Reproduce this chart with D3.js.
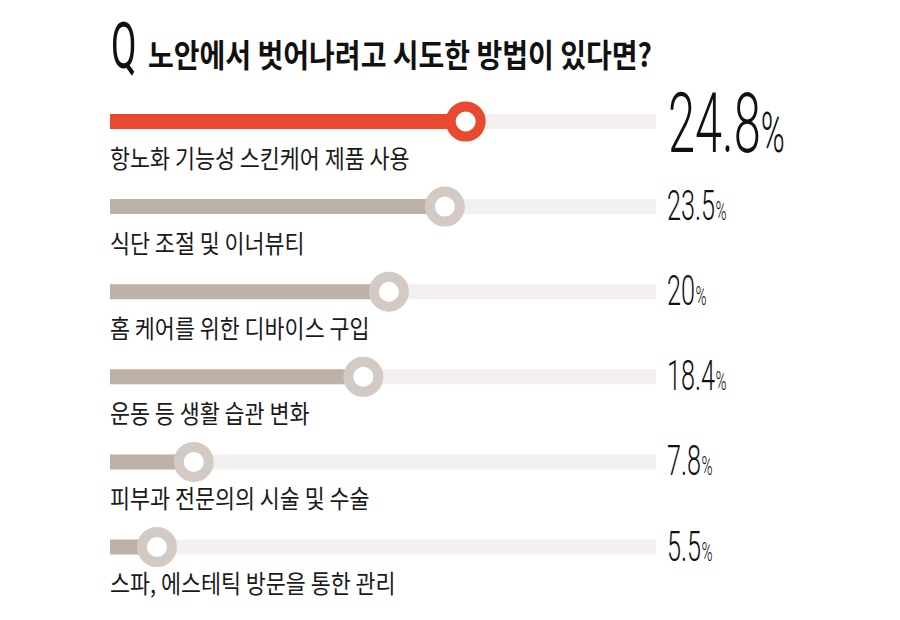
<!DOCTYPE html>
<html>
<head>
<meta charset="utf-8">
<script src="https://cdn.jsdelivr.net/npm/d3@7"></script>
<style>
  html, body { margin: 0; padding: 0; background: #ffffff; }
  svg { display: block; }
</style>
</head>
<body>
<svg id="chart" width="900" height="620"></svg>
<script>
// ---- data ----
const title = "노안에서 벗어나려고 시도한 방법이 있다면?";
const categories = [
  "항노화 기능성 스킨케어 제품 사용",
  "식단 조절 및 이너뷰티",
  "홈 케어를 위한 디바이스 구입",
  "운동 등 생활 습관 변화",
  "피부과 전문의의 시술 및 수술",
  "스파, 에스테틱 방문을 통한 관리"
];
const values = [24.8, 23.5, 20, 18.4, 7.8, 5.5];
const valueLabels = ["24.8", "23.5", "20", "18.4", "7.8", "5.5"];

// ---- layout ----
const svg = d3.select("#chart");
const trackStart = 110, trackEnd = 656;
const x = d3.scaleLinear().domain([0, 36.7]).range([69, trackEnd]);
const y = d3.scalePoint().domain(categories).range([121.5, 547]);

const RED = "#e84a31", GRAY_BAR = "#bdb1a8", GRAY_RING = "#d3cac4", TRACK = "#f3f0ef";
const numFont = "Roboto, 'Liberation Sans', sans-serif";
const krFont = "'Noto Sans CJK KR', 'Noto Sans', sans-serif";

// Q mark
svg.append("g")
  .attr("transform", "translate(111,68) scale(0.58,1)")
  .append("text")
  .attr("font-family", numFont).attr("font-weight", 400)
  .attr("font-size", 64).attr("fill", "#111")
  .text("Q");

// Title
svg.append("text")
  .attr("x", 148).attr("y", 67)
  .attr("font-family", krFont).attr("font-weight", 700)
  .attr("font-size", 32).attr("fill", "#111")
  .attr("textLength", 504).attr("lengthAdjust", "spacingAndGlyphs")
  .text(title);

const rows = svg.append("g").selectAll("g.row")
  .data(categories.map((c, i) => ({ c, v: values[i], lab: valueLabels[i], i })))
  .join("g").attr("class", "row");

// track
rows.append("line")
  .attr("x1", trackStart).attr("x2", trackEnd)
  .attr("y1", d => y(d.c)).attr("y2", d => y(d.c))
  .attr("stroke", TRACK).attr("stroke-width", 15);

// value bar
rows.append("line")
  .attr("x1", trackStart).attr("x2", d => x(d.v))
  .attr("y1", d => y(d.c)).attr("y2", d => y(d.c))
  .attr("stroke", d => d.i === 0 ? RED : GRAY_BAR).attr("stroke-width", 15);

// knob
rows.append("circle")
  .attr("cx", d => x(d.v)).attr("cy", d => y(d.c)).attr("r", 15)
  .attr("fill", "#fff")
  .attr("stroke", d => d.i === 0 ? RED : GRAY_RING).attr("stroke-width", 10);

// category label
rows.append("g")
  .attr("transform", d => `translate(${trackStart},${y(d.c) + 46}) scale(0.87,1)`)
  .append("text")
  .attr("font-family", krFont).attr("font-weight", 400)
  .attr("font-size", 25).attr("fill", "#1a1a1a")
  .text(d => d.c);

// value label
const vt = rows.append("g")
  .attr("transform", d => d.i === 0
    ? `translate(668,${y(d.c) + 30}) scale(0.58,1)`
    : `translate(667,${y(d.c) + 13.5}) scale(0.6,1)`)
  .append("text")
  .attr("font-family", numFont).attr("font-weight", 300)
  .attr("fill", "#111");
vt.append("tspan")
  .attr("font-size", d => d.i === 0 ? 84 : 42)
  .text(d => d.lab);
vt.append("tspan")
  .attr("dx", d => d.i === 0 ? 0 : 1)
  .attr("font-size", d => d.i === 0 ? 56 : 25)
  .text("%");
</script>
</body>
</html>
